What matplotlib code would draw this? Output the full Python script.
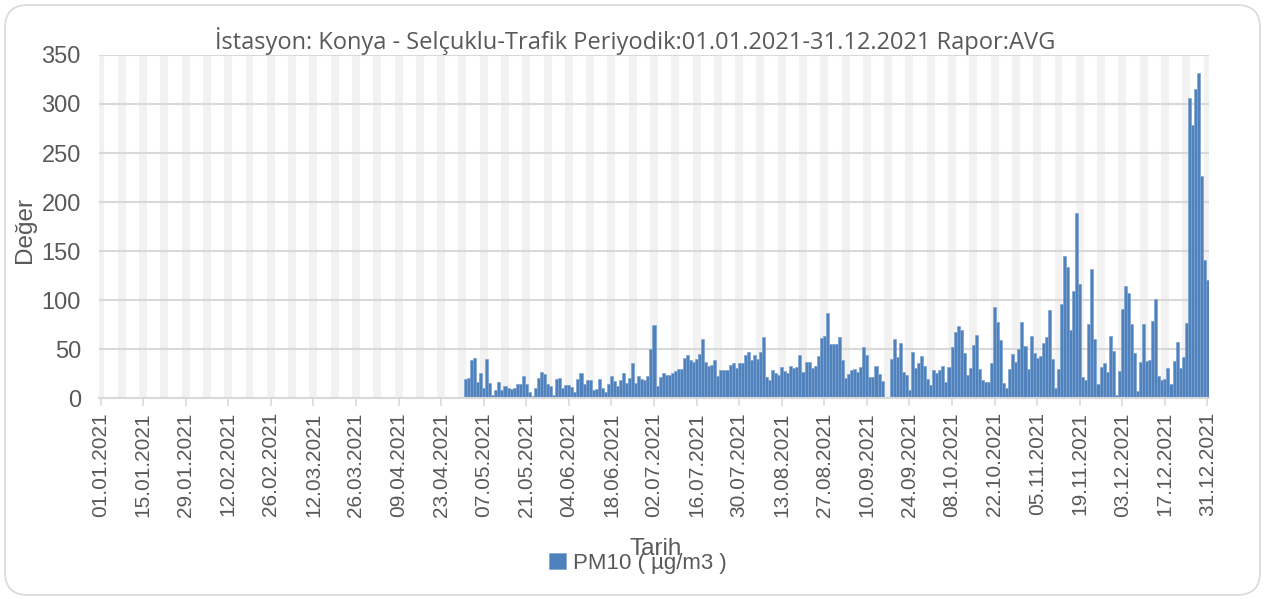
import numpy as np
import pandas as pd
import matplotlib.pyplot as plt
from matplotlib.patches import FancyBboxPatch

# Daily PM10 averages, Konya - Selcuklu traffic station, 2021
year_start = "2021-01-01"
year_end = "2021-12-31"
first_day = "2021-05-01"   # first day with a measurement
nan = np.nan
pm10 = [
    # May - early June
    20, 21, 39, 41, 17, 25.5, 10, 40, 16, 3, 8, 16.5, 8, 13, 10.7, 9, 10, 15, 15, 23,
    15, 6, 2, 10, 20.7, 27, 24.5, 14.5, 13, 3, 20, 21, 10, 13.5, 14, 12, 6.5, 20,
    # June - July
    26, 15, 19, 19, 8, 9.7, 20, 10, 6, 15, 23, 18, 12.4, 18.6, 25.5, 15.5, 21, 35.5, 16, 23,
    20, 19, 22.7, 50.7, 74.5, 13, 22, 25.5, 24, 24, 25.5, 28, 30, 30, 41, 44, 39, 37.5, 40, 45,
    # July - August
    60, 36.5, 33, 33.5, 39, 23, 28.6, 29, 29, 34, 36, 30.7, 36, 36, 44, 47, 39, 44, 40, 47,
    62.4, 22, 18.6, 28.6, 26, 23.4, 31.7, 27.6, 25.5, 33, 30.7, 31.4, 44, 26.5, 37, 37, 30.7, 33, 43, 61,
    63,
    # late August - mid September
    87, 55.5, 55.5, 55, 62, 38.6, 21, 25, 28.6, 30, 26.5, 32, 52, 44.5, 21.7, 21.7, 33, 24.5, 18,
    nan, nan,
    40, 60, 42, 56.5, 27, 23.4, 8, 47, 30.7, 36, 43.4, 33, 20, 13.4, 28.6, 26, 28.6, 33,
    # October - November
    16.7, 32, 52, 67.7, 74, 70, 46, 24, 31, 54, 64.6, 29.6, 18.4, 16.7, 16.7, 36.4, 93, 78, 59, 15.6,
    10, 29.6, 45, 37, 50, 78, 53, 30, 63, 46, 41.5, 43.5, 56, 62, 90.5, 40, 10.5, 30, 96.6, 145,
    134,
    # mid November - December
    69.4, 109, 189, 117, 22, 18.4, 76, 132, 60, 14.6, 32, 36.4, 26.5, 63.6, 48, 3, 27.5, 91, 114, 107,
    75.5, 46.6, 7, 37, 76, 38.4, 39.5, 78.6, 100.7, 22.4, 19, 19.7, 31, 15, 38, 57, 30.6, 42, 76.5, 306,
    279, 315, 332, 226.5, 140.5, 121,
]
series_name = "PM10 ( µg/m3 )"
title = "İstasyon: Konya - Selçuklu-Trafik Periyodik:01.01.2021-31.12.2021 Rapor:AVG"

dates = pd.date_range(year_start, year_end, freq="D")
values = pd.Series(pm10, index=pd.date_range(first_day, periods=len(pm10), freq="D")).reindex(dates)
x = np.arange(len(dates))
has = values.notna().to_numpy()

plt.rcParams["font.family"] = ["Liberation Sans", "DejaVu Sans"]
txt = "#595959"

fig = plt.figure(figsize=(12.66, 5.99), dpi=100)
fig.patches.append(FancyBboxPatch((5 / 1266, 4 / 599), 1255 / 1266, 590 / 599,
                                  boxstyle="round,pad=0,rounding_size=0.018",
                                  transform=fig.transFigure, facecolor="white",
                                  edgecolor="#d9d9d9", linewidth=1.2, mutation_aspect=2.1,
                                  zorder=-10))
ax = fig.add_axes([99 / 1266, 1 - 398.3 / 599, 1110 / 1266, 343.4 / 599])
ax.set_facecolor("none")

# weekly light stripes
for d in range(0, len(dates), 7):
    ax.axvspan(d - 1.3, d + 1.3, color="#f2f2f2", zorder=0.2, lw=0)
ax.yaxis.grid(True, color="#d9d9d9", linewidth=1.5, zorder=0.4)
ax.set_axisbelow(True)

ax.bar(x[has], values.to_numpy()[has], width=1.0, color="#4f81bd",
       edgecolor="#7ea3d1", linewidth=0.5, zorder=2, label=series_name)

ax.set_xlim(-0.5, len(dates) - 0.5)
ax.set_ylim(0, 350)
ax.set_yticks(range(0, 351, 50))
tick_pos = x[::14]
ax.set_xticks(tick_pos)
ax.set_xticklabels(dates[::14].strftime("%d.%m.%Y"), rotation=90)

for s in ["top", "right", "left"]:
    ax.spines[s].set_visible(False)
ax.spines["bottom"].set_color("#d9d9d9")
ax.spines["bottom"].set_linewidth(1.5)
ax.tick_params(axis="y", length=0, labelsize=17, colors=txt, pad=13)
ax.tick_params(axis="x", length=6, width=1.2, color="#d9d9d9", labelsize=15,
               labelcolor=txt, pad=4)

fig.text(635 / 1266, 1 - 41 / 599, title, ha="center", va="center", fontsize=17,
         color=txt, family=["Open Sans", "DejaVu Sans"])
fig.text(25 / 1266, 1 - 230 / 599, "Değer", rotation=90, ha="center", va="center",
         fontsize=17.5, color=txt)
fig.text(656 / 1266, 1 - 549 / 599, "Tarih", ha="center", va="center", fontsize=17.5,
         color=txt)
fig.legend(loc="center", bbox_to_anchor=(638 / 1266, 1 - 563 / 599), frameon=False,
           fontsize=16, labelcolor=txt, handlelength=0.75, handleheight=0.75,
           handletextpad=0.3)

fig.savefig("out.png", dpi=100)
